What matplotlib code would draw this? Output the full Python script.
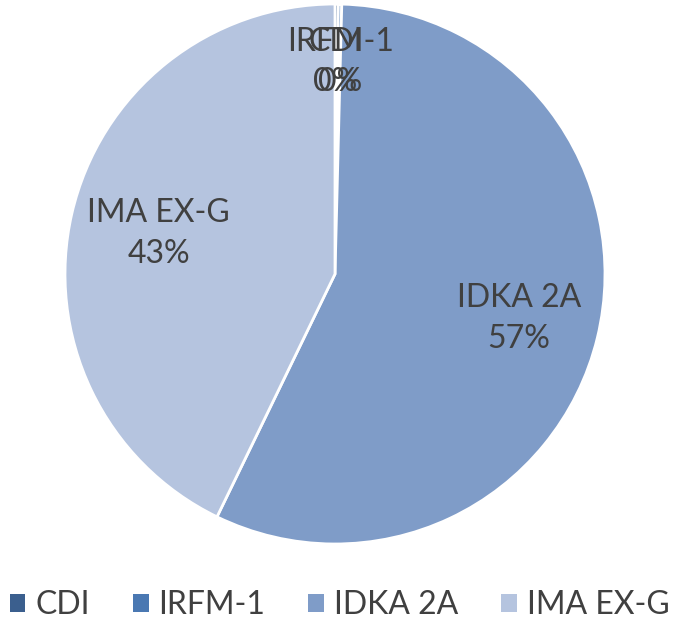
import numpy as np
import matplotlib.pyplot as plt
from matplotlib.patches import Patch

plt.rcParams['font.family'] = ['Lato', 'DejaVu Sans']

categorias = ['CDI', 'IRFM-1', 'IDKA 2A', 'IMA EX-G']
valores = [0.2, 0.2, 56.8, 42.8]
rotulos_pct = ['0%', '0%', '57%', '43%']
cores = ['#3b5f8e', '#4a78b2', '#7f9cc8', '#b5c4df']
cor_texto = '#404040'

fig = plt.figure(figsize=(6.79, 6.27), dpi=100)
ax = fig.add_axes([65/679, 83/627, 540/679, 540/627])

wedges, _ = ax.pie(valores, colors=cores, startangle=90, counterclock=False,
                   radius=1, wedgeprops=dict(edgecolor='white', linewidth=2))
ax.set_xlim(-1, 1)
ax.set_ylim(-1, 1)
ax.axis('off')

# rótulos dentro das fatias (os dois de 0% ficam sobrepostos, como no original)
dist = [0.785, 0.785, 0.70, 0.67]
for w, cat, pct, d in zip(wedges, categorias, rotulos_pct, dist):
    ang = np.deg2rad((w.theta1 + w.theta2) / 2)
    x, y = d * np.cos(ang), d * np.sin(ang)
    if pct == '0%':
        x += 0.004 * (1 if cat == 'IRFM-1' else -1)
    ax.text(x, y, f'{cat}\n{pct}', ha='center', va='center', fontsize=23,
            color=cor_texto, linespacing=1.45)

handles = [Patch(facecolor=c, edgecolor='none') for c in cores]
fig.legend(handles, categorias, loc='center', bbox_to_anchor=(0.5, 1 - 605/627),
           ncol=4, frameon=False, fontsize=23, labelcolor=cor_texto,
           handlelength=0.5, handleheight=0.5, handletextpad=0.3,
           columnspacing=1.35, borderaxespad=0, borderpad=0)

fig.savefig('out.png', dpi=100)
